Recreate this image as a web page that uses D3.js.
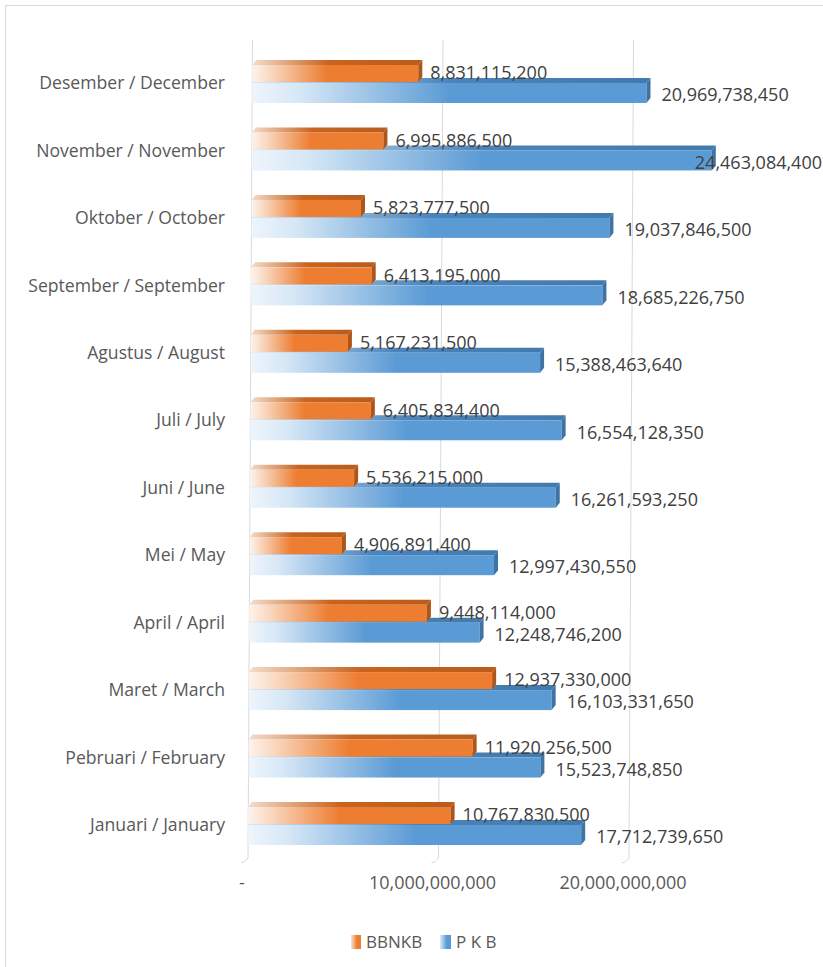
<!DOCTYPE html>
<html>
<head>
<meta charset="utf-8">
<script src="https://cdn.jsdelivr.net/npm/d3@7"></script>
<style>
  body { margin: 0; background: #fff; }
  svg { display: block; font-family: "Open Sans", "Liberation Sans", sans-serif; }
</style>
</head>
<body>
<div id="chart"></div>
<script>
// DATA
var months = ['Januari / January', 'Pebruari / February', 'Maret / March', 'April / April',
	'Mei / May', 'Juni / June', 'Juli / July', 'Agustus / August',
	'September / September', 'Oktober / October', 'November / November', 'Desember / December'];
var bbnkb = [10767830500, 11920256500, 12937330000, 9448114000, 4906891400, 5536215000,
	6405834400, 5167231500, 6413195000, 5823777500, 6995886500, 8831115200];
var pkb = [17712739650, 15523748850, 16103331650, 12248746200, 12997430550, 16261593250,
	16554128350, 15388463640, 18685226750, 19037846500, 24463084400, 20969738450];
var tickValues = [0, 10000000000, 20000000000];
var tickLabels = ['-', '10,000,000,000', '20,000,000,000'];
var seriesNames = ['BBNKB', 'P K B'];

// BOUNDS (note: "top" is taken by window.top)
var width = 823, height = 967;
var plotTop = 40, plotBottom = 858;

// SCALE
// bars sit in front, gridlines on the back wall (a bit wider in 3D)
var xScale = d3.scaleLinear().domain([0, 25000000000]).range([250, 720]);
var gridScale = xScale.copy().range([250, 726.25]);
// Dec at top, Jan at bottom
var yScale = d3.scalePoint().domain(months.slice().reverse()).range([83, 825]);
// slight perspective: rows near top shift right
var shift = d3.scaleLinear().domain([plotTop, plotBottom]).range([2.5, -2]);
var fmt = d3.format(',');

var svg = d3.select('#chart').append('svg')
	.attr('width', width)
	.attr('height', height);

svg.append('rect')
	.attr('x', 5.5).attr('y', 5.5)
	.attr('width', width + 20).attr('height', height + 20)
	.attr('fill', '#fff')
	.attr('stroke', '#d9d9d9');

var defs = svg.append('defs');
function grad(id, stops) {
	var g = defs.append('linearGradient').attr('id', id)
		.attr('x1', 0).attr('x2', 1).attr('y1', 0).attr('y2', 0);
	stops.forEach(function(s) {
		g.append('stop').attr('offset', s[0]).attr('stop-color', s[1]);
	});
}
grad('gOrange', [[0, '#fdf3ec'], [0.12, '#f9d6bd'], [0.45, '#ed7d31'], [1, '#ed7d31']]);
grad('gOrangeTop', [[0, '#f3dccb'], [0.45, '#c8641f'], [1, '#b95c1c']]);
grad('gBlue', [[0, '#eef5fc'], [0.12, '#d6e7f6'], [0.5, '#5b9bd5'], [1, '#5b9bd5']]);
grad('gBlueTop', [[0, '#dbe8f4'], [0.5, '#4a84bb'], [1, '#437aae']]);
grad('gOrangeKey', [[0, '#fbe3d2'], [0.6, '#ed7d31'], [1, '#ed7d31']]);
grad('gBlueKey', [[0, '#dfecf8'], [0.6, '#5b9bd5'], [1, '#5b9bd5']]);

// GRIDLINES (with little 3D feet)
var grid = svg.append('g');
tickValues.forEach(function(v) {
	var xt = gridScale(v) + shift(plotTop), xb = gridScale(v) + shift(plotBottom);
	grid.append('line')
		.attr('x1', xt).attr('y1', plotTop)
		.attr('x2', xb).attr('y2', plotBottom)
		.attr('stroke', '#d9d9d9').attr('stroke-width', 1);
	grid.append('path')
		.attr('d', 'M' + xb + ',' + plotBottom + 'l-4,4 l-3,1')
		.attr('fill', 'none').attr('stroke', '#d9d9d9');
});

// AXIS LABELS
svg.append('g').selectAll('text')
	.data(tickValues)
	.enter().append('text')
	.attr('x', function(d) { return gridScale(d) + shift(plotBottom) - 6; })
	.attr('y', 883)
	.attr('dy', '0.35em')
	.attr('text-anchor', 'middle')
	.attr('fill', '#595959')
	.style('font-size', '18px')
	.text(function(d, i) { return tickLabels[i]; });

svg.append('g').selectAll('text')
	.data(months)
	.enter().append('text')
	.attr('x', 225)
	.attr('y', function(d) { return yScale(d); })
	.attr('dy', '0.35em')
	.attr('text-anchor', 'end')
	.attr('fill', '#595959')
	.style('font-size', '17.6px')
	.text(function(d) { return d; });

// 3D BAR
var depthX = 4, depthY = 5;
function bar(g, x0, x1, y0, h, front, topFill, side) {
	// top face
	g.append('path')
		.attr('d', 'M' + x0 + ',' + y0 + 'L' + (x0 + depthX) + ',' + (y0 - depthY) +
			'L' + (x1 + depthX) + ',' + (y0 - depthY) + 'L' + x1 + ',' + y0 + 'Z')
		.attr('fill', topFill);
	// front face
	g.append('rect')
		.attr('x', x0).attr('y', y0)
		.attr('width', x1 - x0).attr('height', h)
		.attr('fill', front);
	// side face
	g.append('path')
		.attr('d', 'M' + x1 + ',' + y0 + 'L' + (x1 + depthX) + ',' + (y0 - depthY) +
			'L' + (x1 + depthX) + ',' + (y0 + h - depthY) + 'L' + x1 + ',' + (y0 + h) + 'Z')
		.attr('fill', side);
}

var bars = svg.append('g');
months.forEach(function(m, i) {
	var c = yScale(m);
	var s = shift(c);
	var g = bars.append('g');
	// P K B below, drawn first
	bar(g, xScale(0) + s, xScale(pkb[i]) + s, c, 20, 'url(#gBlue)', 'url(#gBlueTop)', '#3f73a4');
	// BBNKB above
	bar(g, xScale(0) + s, xScale(bbnkb[i]) + s, c - 18, 17, 'url(#gOrange)', 'url(#gOrangeTop)', '#ae561a');
});

// DATA LABELS
var labels = svg.append('g')
	.attr('fill', '#404040')
	.style('font-size', '18px');
months.forEach(function(m, i) {
	var c = yScale(m);
	var s = shift(c);
	labels.append('text')
		.attr('x', xScale(bbnkb[i]) + s + 12)
		.attr('y', c - 10)
		.attr('dy', '0.35em')
		.text(fmt(bbnkb[i]));
	var t = labels.append('text')
		.attr('x', xScale(pkb[i]) + s + 15)
		.attr('y', c + 12)
		.attr('dy', '0.35em')
		.text(fmt(pkb[i]));
	// keep inside the chart area
	var w = t.node().getComputedTextLength();
	if (xScale(pkb[i]) + s + 15 + w > 822) t.attr('x', 822 - w);
});

// LEGEND
var legend = svg.append('g').style('font-size', '17px').attr('fill', '#595959');
legend.append('rect').attr('x', 351).attr('y', 935).attr('width', 10).attr('height', 14).attr('fill', 'url(#gOrangeKey)');
legend.append('text').attr('x', 366).attr('y', 942).attr('dy', '0.35em').text(seriesNames[0]);
legend.append('rect').attr('x', 440).attr('y', 935).attr('width', 11).attr('height', 14).attr('fill', 'url(#gBlueKey)');
legend.append('text').attr('x', 456).attr('y', 942).attr('dy', '0.35em').text(seriesNames[1]);
</script>
</body>
</html>
